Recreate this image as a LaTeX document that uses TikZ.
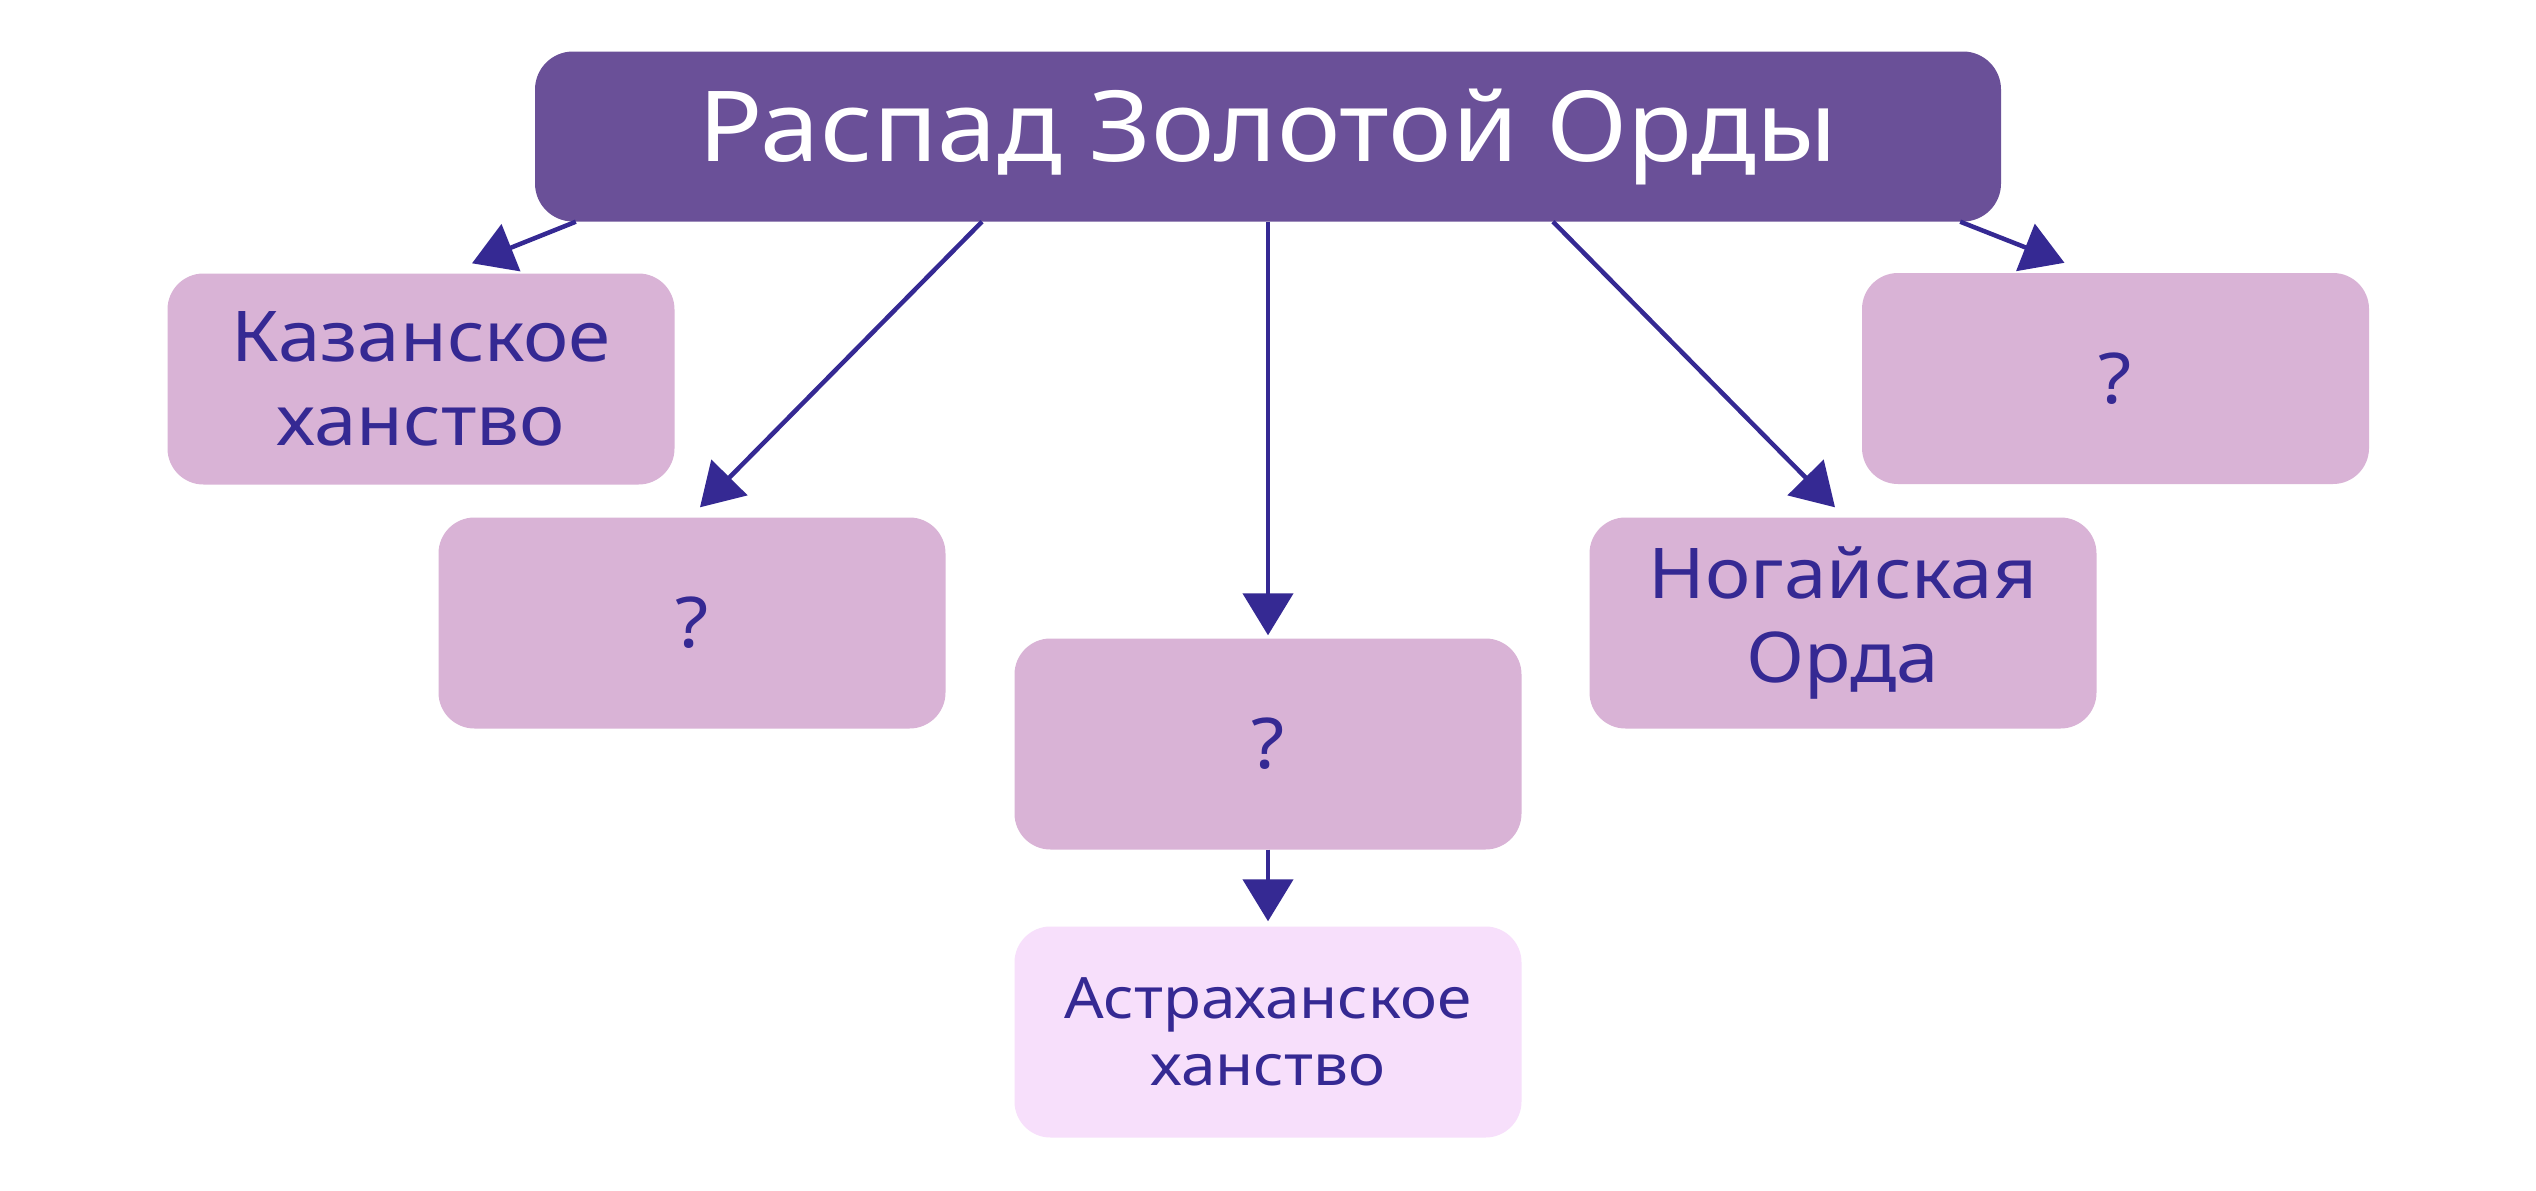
\documentclass[tikz,border=0pt]{standalone}
\usepackage{fontspec}
\setmainfont{Noto Sans}[FakeStretch=1.09]
\usetikzlibrary{arrows.meta,calc}
\definecolor{topc}{RGB}{106,80,152}
\definecolor{boxc}{RGB}{217,179,214}
\definecolor{astc}{RGB}{247,223,251}
\definecolor{ink}{RGB}{53,41,147}
\begin{document}
\begin{tikzpicture}[x=1pt,y=-1pt,
  box/.style={fill=boxc, rounded corners=36pt, minimum width=507pt, minimum height=211pt,
    inner sep=0pt, align=center, text=ink, font=\fontsize{70}{84}\selectfont},
  titlebox/.style={fill=topc, rounded corners=38pt, minimum width=1466pt, minimum height=170pt,
    inner sep=0pt, text=white, font=\fontsize{98}{110}\selectfont},
  arr/.style={draw=ink, line width=4.5pt, -{Triangle[length=42pt,width=50pt]}}]
\fill[white] (0,0) rectangle (2536,1191);
\useasboundingbox (0,0) rectangle (2536,1191);

\node[titlebox] (top) at (1268,136.5) {\raisebox{-3pt}{Распад Золотой Орды}};
\node[box] (kazan) at (421,379) {Казанское\\ханство};
\node[box] (q2) at (692,623) {?};
\node[box] (q3) at (1268,744) {?};
\node[box] (nogai) at (1843,623) {Ногайская\\Орда};
\node[box] (q5) at (2115.5,378.5) {?};
\node[box, fill=astc, font=\fontsize{57}{67}\selectfont] (astra) at (1268,1032) {Астраханское\\ханство};

\coordinate (tK) at ([xshift=51pt,yshift=10pt]kazan.north);
\coordinate (tQ2) at ([xshift=8pt,yshift=10pt]q2.north);
\coordinate (tN) at ([xshift=-8pt,yshift=10pt]nogai.north);
\coordinate (tQ5) at ([xshift=-51pt,yshift=10pt]q5.north);

\draw[arr] ([xshift=41pt]top.south west) -- (tK);
\draw[arr] ([xshift=-286pt]top.south) -- (tQ2);
\draw[arr] (top.south) -- ([yshift=3pt]q3.north);
\draw[arr] ([xshift=285pt]top.south) -- (tN);
\draw[arr] ([xshift=-41pt]top.south east) -- (tQ5);
\draw[arr] (q3.south) -- ([yshift=5pt]astra.north);
\end{tikzpicture}
\end{document}
